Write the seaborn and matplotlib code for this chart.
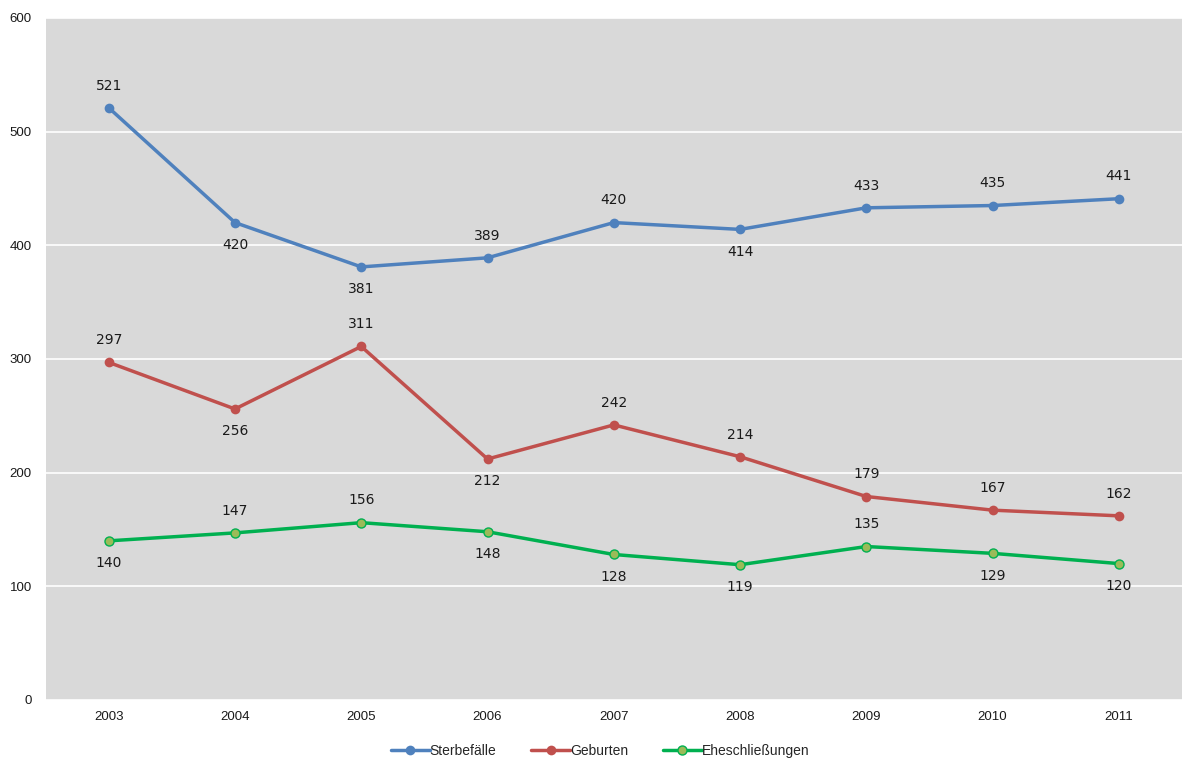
import pandas as pd
import matplotlib
matplotlib.use("Agg")
import matplotlib.pyplot as plt
import seaborn as sns

# Jahresdaten
years = [2003, 2004, 2005, 2006, 2007, 2008, 2009, 2010, 2011]
sterbefaelle = [521, 420, 381, 389, 420, 414, 433, 435, 441]
geburten = [297, 256, 311, 212, 242, 214, 179, 167, 162]
ehe = [140, 147, 156, 148, 128, 119, 135, 129, 120]

# Position der Beschriftung: 1 = oben, -1 = unten
pos_sterbe = [1, -1, -1, 1, 1, -1, 1, 1, 1]
pos_geburt = [1, -1, 1, -1, 1, 1, 1, 1, 1]
pos_ehe = [-1, 1, 1, -1, -1, -1, 1, -1, -1]

series_names = ["Sterbefälle", "Geburten", "Eheschließungen"]

df = pd.DataFrame({
    "Jahr": years * 3,
    "Wert": sterbefaelle + geburten + ehe,
    "Reihe": [series_names[0]] * 9 + [series_names[1]] * 9 + [series_names[2]] * 9,
})

sns.set_theme(style="white")
plt.rcParams["font.family"] = ["Liberation Sans", "DejaVu Sans"]

fig = plt.figure(figsize=(12, 7.75), dpi=100)
ax = fig.add_axes([0.038, 0.0968, 0.947, 0.880])
ax.set_facecolor("#D9D9D9")

colors = {"Sterbefälle": "#4F81BD", "Geburten": "#C0504D", "Eheschließungen": "#00B050"}
sns.lineplot(data=df, x="Jahr", y="Wert", hue="Reihe", palette=colors, ax=ax,
             linewidth=2.5, marker="o", markersize=7, markeredgewidth=0, legend=False, zorder=3)

# gruener Marker mit gelbgruener Fuellung
for line in ax.lines:
    if matplotlib.colors.to_hex(line.get_color()).upper() == "#00B050":
        line.set_markerfacecolor("#9BBB59")
        line.set_markeredgecolor("#00B050")
        line.set_markeredgewidth(1.0)
        line.set_markersize(6.5)

for vals, pos in [(sterbefaelle, pos_sterbe), (geburten, pos_geburt), (ehe, pos_ehe)]:
    for x, v, p in zip(years, vals, pos):
        ax.annotate(str(v), (x, v), xytext=(0, 16 * p), textcoords="offset points",
                    ha="center", va="center", fontsize=10, color="#1a1a1a",
                    family=["DejaVu Sans"])

ax.set_xlim(2002.5, 2011.5)
ax.set_ylim(0, 600)
ax.set_yticks(range(0, 601, 100))
ax.set_xticks(years)
ax.yaxis.grid(True, color="white", linewidth=1.2)
ax.set_axisbelow(True)
for s in ax.spines.values():
    s.set_visible(False)
ax.tick_params(axis="both", length=0, labelsize=9.5, colors="#1a1a1a")
ax.tick_params(axis="y", pad=10)
ax.tick_params(axis="x", pad=8)
ax.set_xlabel("")
ax.set_ylabel("")

from matplotlib.lines import Line2D
handles = [
    Line2D([], [], color="#4F81BD", lw=2.5, marker="o", markersize=7, markeredgewidth=0),
    Line2D([], [], color="#C0504D", lw=2.5, marker="o", markersize=7, markeredgewidth=0),
    Line2D([], [], color="#00B050", lw=2.5, marker="o", markersize=6.5,
           markerfacecolor="#9BBB59", markeredgecolor="#00B050", markeredgewidth=1.0),
]
fig.legend(handles, series_names, loc="center", bbox_to_anchor=(0.5, 0.031), ncol=3,
           frameon=False, fontsize=10, handlelength=2.8, handletextpad=0.0,
           columnspacing=2.5)

fig.savefig("out.png", dpi=100)
